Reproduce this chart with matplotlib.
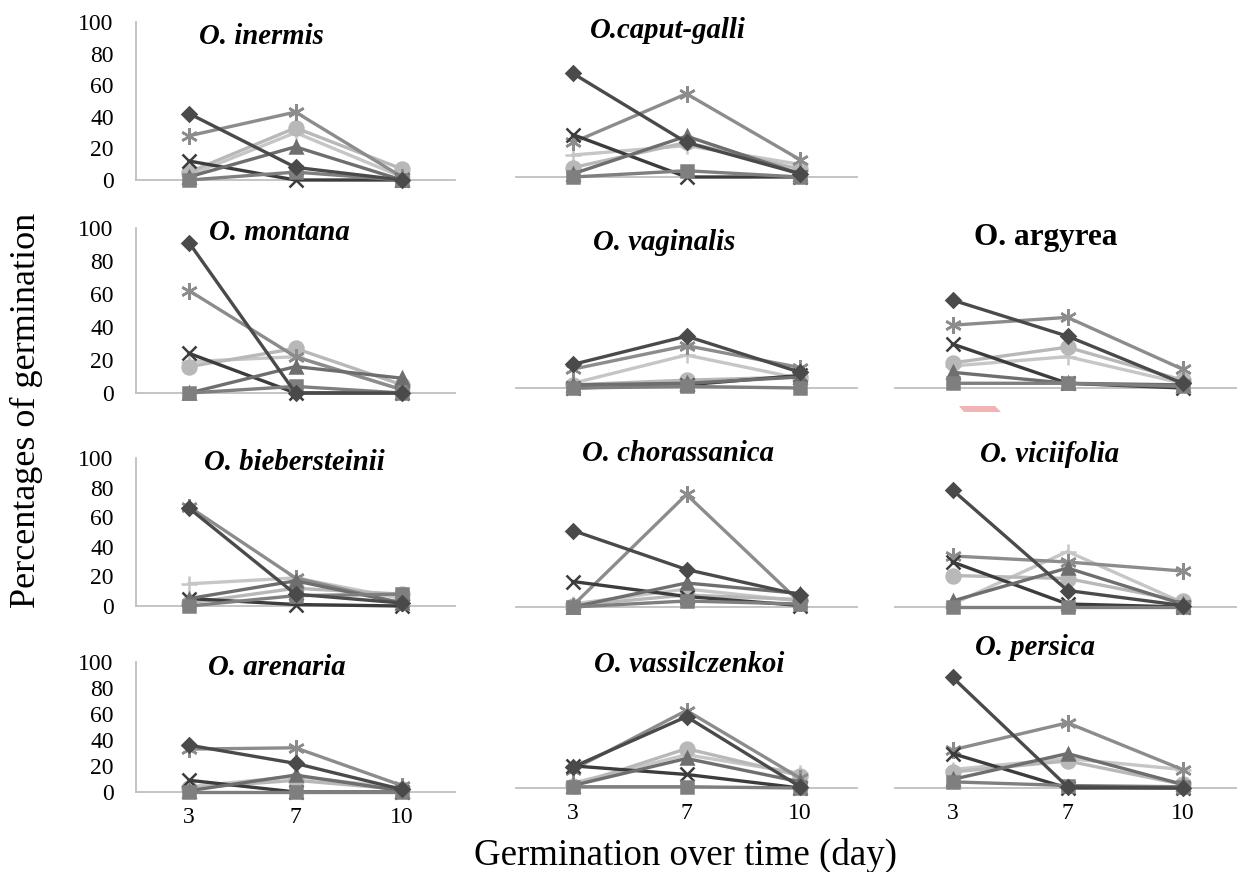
import matplotlib
matplotlib.use("Agg")
import matplotlib.pyplot as plt
from matplotlib.patches import Polygon

# days on the x axis
days = ["3", "7", "10"]

# series order (Excel default markers): diamond, square, triangle, x, asterisk, circle, plus
inermis = [[42, 8, 0], [0, 5, 0], [2, 21, 0], [12, 0, 0], [28, 43, 2], [5, 33, 7], [3, 30, 2]]
caput_galli = [[66, 22, 2], [0, 4, 0], [2, 26, 2], [27, 0, 0], [22, 53, 11], [6, 22, 5], [14, 20, 8]]
montana = [[91, 0, 0], [0, 4, 0], [0, 16, 9], [24, 0, 0], [62, 22, 2], [16, 27, 5], [19, 22, 2]]
vaginalis = [[15, 33, 10], [0, 1, 0], [2, 3, 7], [0, 2, 8], [12, 27, 13], [2, 5, 7], [3, 21, 6]]
argyrea = [[56, 33, 3], [3, 3, 1], [10, 3, 2], [28, 3, 0], [40, 45, 12], [16, 26, 5], [14, 20, 3]]
biebersteinii = [[66, 8, 2], [0, 7, 8], [5, 17, 2], [5, 1, 0], [67, 19, 2], [2, 12, 8], [15, 19, 5]]
chorassanica = [[51, 25, 8], [0, 4, 2], [0, 16, 9], [17, 7, 1], [1, 75, 3], [1, 8, 5], [2, 12, 4]]
viciifolia = [[78, 11, 1], [0, 0, 0], [4, 26, 2], [30, 2, 0], [34, 30, 24], [21, 19, 4], [2, 37, 3]]
arenaria = [[36, 22, 2], [0, 0, 0], [1, 13, 1], [9, 0, 0], [33, 34, 5], [3, 9, 2], [4, 12, 3]]
vassilczenkoi = [[17, 58, 1], [1, 1, 0], [2, 24, 5], [18, 11, 0], [15, 63, 8], [2, 32, 10], [4, 27, 12]]
persica = [[90, 1, 0], [5, 2, 1], [7, 28, 3], [28, 0, 0], [31, 53, 15], [13, 22, 3], [15, 24, 15]]

titles = ["O. inermis", "O.caput-galli", None,
          "O. montana", "O. vaginalis", "O. argyrea",
          "O. biebersteinii", "O. chorassanica", "O. viciifolia",
          "O. arenaria", "O. vassilczenkoi", "O. persica"]
panels = [inermis, caput_galli, None,
          montana, vaginalis, argyrea,
          biebersteinii, chorassanica, viciifolia,
          arenaria, vassilczenkoi, persica]

markers = ["D", "s", "^", "x", (6, 2, 0), "o", "+"]
msizes = [7, 8, 8.5, 10, 12, 10, 11]
colors = ["#4a4a4a", "#7f7f7f", "#6e6e6e", "#3c3c3c", "#8c8c8c", "#b8b8b8", "#c6c6c6"]

W, H = 1237, 872
plt.rcParams["font.family"] = ["Liberation Serif", "DejaVu Serif"]
fig = plt.figure(figsize=(W / 100, H / 100), dpi=100)

# pixel boxes: (left, right) per column, (y of 0, y of 100) per row/column
col_x = [(136, 455), (516, 857), (895, 1240)]
row_y = [[(180, 22), (177, 20), (177, 20)],
         [(393, 228), (388, 231), (388, 231)],
         [(606, 458), (607, 457), (607, 457)],
         [(792, 662), (788, 665), (788, 665)]]
title_pos = [(261, 36), (668, 31), None,
             (279, 233), (664, 243), (1046, 238),
             (294, 463), (678, 453), (1050, 454),
             (277, 667), (689, 665), (1035, 647)]

for i, data in enumerate(panels):
    r, c = divmod(i, 3)
    if data is None:
        continue
    x0, x1 = col_x[c]
    yb, yt = row_y[r][c]
    ax = fig.add_axes([x0 / W, 1 - yb / H, (x1 - x0) / W, (yb - yt) / H])
    ax.set_xlim(-0.5, 2.5)
    ax.set_ylim(0, 100)
    ax.patch.set_alpha(0)
    for sp in ["top", "right"]:
        ax.spines[sp].set_visible(False)
    ax.spines["bottom"].set_color("#bfbfbf")
    ax.spines["bottom"].set_linewidth(1.3)
    ax.spines["left"].set_color("#bfbfbf")
    ax.spines["left"].set_linewidth(1.3)
    ax.spines["left"].set_visible(c == 0)
    for k, ser in enumerate(data):
        ax.plot(range(len(days)), ser, color=colors[k], lw=2.4, marker=markers[k],
                ms=msizes[k], mew=1.8, mec=colors[k], clip_on=False, zorder=3 + (7 - k) * 0.1)
    ax.set_xticks(range(len(days)))
    ax.tick_params(length=0)
    if r == 3:
        ax.set_xticklabels(days, fontsize=17)
        ax.tick_params(axis="x", pad=11)
    else:
        ax.set_xticklabels([])
    if c == 0:
        ax.set_yticks(range(0, 101, 20))
        ax.set_yticklabels([str(v) for v in range(0, 101, 20)], fontsize=17)
        ax.tick_params(axis="y", pad=16)
    else:
        ax.set_yticks([])
    tx, ty = title_pos[i]
    if titles[i] == "O. argyrea":
        fig.text(tx / W, 1 - ty / H, titles[i], ha="center", va="center",
                 fontsize=22.5, fontweight="bold")
    else:
        fig.text(tx / W, 1 - ty / H, titles[i], ha="center", va="center",
                 fontsize=20.7, fontweight="bold", style="italic")

# small pink mark below O. argyrea
pts = [(959, 406), (995, 406), (1001, 412), (964, 412)]
fig.patches.append(Polygon([(x / W, 1 - y / H) for x, y in pts], closed=True,
                           transform=fig.transFigure, color="#f0b4b4", lw=0))

fig.text(686 / W, 1 - 855 / H, "Germination over time (day)", ha="center", va="center", fontsize=26.6)
fig.text(26 / W, 1 - 410 / H, "Percentages of germination", ha="center", va="center",
         rotation=90, fontsize=26)

fig.savefig("out.png", dpi=100)
